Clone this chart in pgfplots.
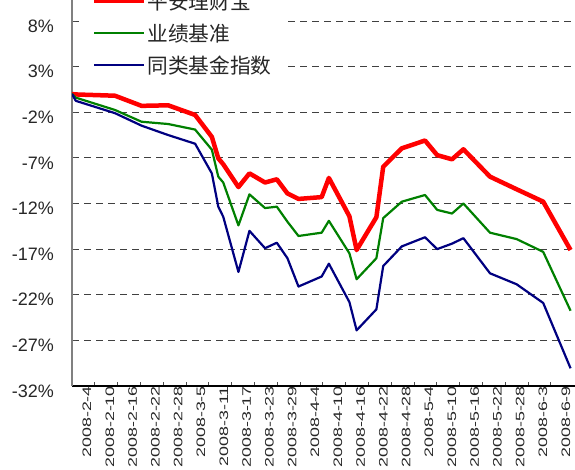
\documentclass[border=0pt]{standalone}
\usepackage{fontspec}
\setmainfont{Liberation Sans}
\newfontfamily\cjk{Noto Sans CJK SC}
\newfontfamily\xfont[FakeStretch=1.45]{Liberation Sans}
\usepackage{pgfplots}
\pgfplotsset{compat=1.18}
\definecolor{cred}{RGB}{255,0,0}
\definecolor{cgreen}{RGB}{0,128,0}
\definecolor{cblue}{RGB}{0,0,128}
\begin{document}
\begin{tikzpicture}
\begin{axis}[
  name=ax,
  at={(0,0)}, anchor=south west,
  scale only axis,
  width=503bp, height=386bp,
  xmin=0, xmax=132.37,
  ymin=-32, ymax=10.30,
  axis lines*=left,
  x axis line style={black, line width=1.2bp},
  y axis line style={gray, line width=1.5bp},
  tick align=inside,
  major tick length=4bp,
  tick style={black!70, line width=0.8bp},
  xtick={0,6,...,126},
  xticklabels={2008-2-4,2008-2-10,2008-2-16,2008-2-22,2008-2-28,2008-3-5,2008-3-11,2008-3-17,2008-3-23,2008-3-29,2008-4-4,2008-4-10,2008-4-16,2008-4-22,2008-4-28,2008-5-4,2008-5-10,2008-5-16,2008-5-22,2008-5-28,2008-6-3,2008-6-9},
  xticklabel style={rotate=90, anchor=east, inner sep=0pt, yshift=-15bp, font=\xfont\fontsize{12.3bp}{14bp}\selectfont, text=black!85},
  ytick={-32,-27,-22,-17,-12,-7,-2,3,8},
  yticklabels={-32\%,-27\%,-22\%,-17\%,-12\%,-7\%,-2\%,3\%,8\%},
  yticklabel style={anchor=east, inner sep=0pt, xshift=-18bp, yshift=-5bp, font=\fontsize{18bp}{20bp}\selectfont, text=black!85},
  ymajorgrids,
  major grid style={black!75, line width=0.9bp, dash pattern=on 7bp off 5bp},
  legend style={draw=none, fill=white, at={(axis description cs:0.02386,1.0241)}, anchor=north west,
    inner xsep=7.7bp, inner ysep=2bp,
    font=\cjk\fontsize{20.7bp}{24bp}\selectfont, text=black!85,
    nodes={inner sep=0pt, anchor=base west, text height=17bp, text depth=3bp},
    row sep=12bp,
    /tikz/every odd column/.append style={column sep=1bp},
    /tikz/every even column/.append style={text width=133bp, align=left}},
  legend image code/.code={\draw[#1] (0bp,8.7bp) -- (50bp,8.7bp);},
]
\addplot[cred, line width=4.5bp, line join=round] coordinates {
(0,0) (1,-0.05) (11.3,-0.19) (18.3,-1.3) (25.3,-1.24) (32.4,-2.3) (36.8,-4.7) (38.5,-7.05) (39.8,-7.7) (43.8,-10.2) (46.7,-8.7) (50.8,-9.7) (53.9,-9.35) (56.7,-10.9) (59.6,-11.5) (65.7,-11.3) (67.6,-9.2) (73,-13.4) (74.9,-17.1) (80.1,-13.5) (81.9,-7.97) (86.8,-5.95) (92.9,-5.1) (96.1,-6.7) (100,-7.16) (103,-6.06) (110,-9.06) (117,-10.44) (124,-11.8) (131.2,-17.1)
};
\addlegendentry{平安理财宝}
\addplot[cgreen, line width=2.2bp, line join=round] coordinates {
(0,0) (1,-0.4) (11.3,-1.75) (18.3,-3.04) (25.3,-3.29) (32.4,-3.9) (36.8,-6.1) (38.5,-9.06) (39.8,-9.7) (43.8,-14.4) (46.7,-11.0) (50.8,-12.5) (53.9,-12.35) (56.7,-14.0) (59.6,-15.56) (65.7,-15.2) (67.6,-13.9) (73,-17.46) (74.9,-20.3) (80.1,-18.0) (81.9,-13.6) (86.8,-11.8) (92.9,-11.07) (96.1,-12.7) (100,-13.1) (103,-12.0) (110,-15.2) (117,-15.9) (124,-17.3) (131.2,-23.75)
};
\addlegendentry{业绩基准}
\addplot[cblue, line width=2.2bp, line join=round] coordinates {
(0,0) (1,-0.75) (11.3,-2.1) (18.3,-3.47) (25.3,-4.5) (32.4,-5.45) (36.8,-8.7) (38.5,-12.35) (39.8,-13.45) (43.8,-19.5) (46.7,-15.0) (50.8,-16.9) (53.9,-16.3) (56.7,-18.0) (59.6,-21.1) (65.7,-20.0) (67.6,-18.6) (73,-22.8) (74.9,-25.9) (80.1,-23.6) (81.9,-18.85) (86.8,-16.7) (92.9,-15.7) (96.1,-17.0) (100,-16.4) (103,-15.8) (110,-19.65) (117,-20.85) (124,-22.9) (131.2,-30.06)
};
\addlegendentry{同类基金指数}
\end{axis}
\pgfresetboundingbox
\path[use as bounding box] ([shift={(-72bp,-84bp)}]ax.south west) rectangle ([shift={(503bp,386bp)}]ax.south west);
\end{tikzpicture}
\end{document}
